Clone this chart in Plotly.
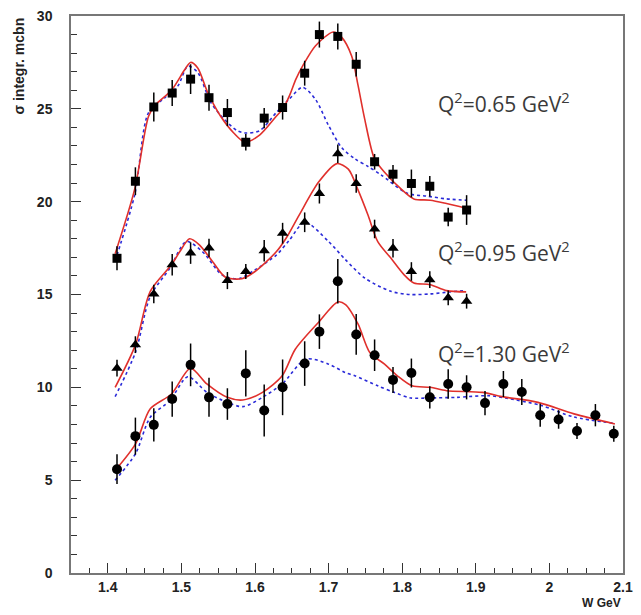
import plotly.graph_objects as go

# ---- data points (W in GeV, sigma in mcbn) ----
w_q065 = [1.4125, 1.4375, 1.4625, 1.4875, 1.5125, 1.5375, 1.5625, 1.5875, 1.6125, 1.6375,
          1.6675, 1.6875, 1.7125, 1.7375, 1.7625, 1.7875, 1.8125, 1.8375, 1.8625, 1.8875]
s_q065 = [16.95, 21.1, 25.1, 25.85, 26.6, 25.6, 24.8, 23.2, 24.5, 25.07,
          26.92, 29.0, 28.9, 27.4, 22.15, 21.48, 20.98, 20.83, 19.17, 19.55]
e_q065 = [0.65, 0.75, 0.78, 0.7, 0.8, 0.7, 0.73, 0.45, 0.55, 0.65,
          0.67, 0.7, 0.7, 0.66, 0.42, 0.5, 0.75, 0.55, 0.5, 0.8]

w_q095 = [1.4125, 1.4375, 1.4625, 1.4875, 1.5125, 1.5375, 1.5625, 1.5875, 1.6125, 1.6375,
          1.6675, 1.6875, 1.7125, 1.7375, 1.7625, 1.7875, 1.8125, 1.8375, 1.8625, 1.8875]
s_q095 = [11.03, 12.3, 15.03, 16.6, 17.23, 17.5, 15.75, 16.24, 17.36, 18.3,
          18.89, 20.44, 22.58, 20.98, 18.53, 17.49, 16.24, 15.8, 14.82, 14.64]
e_q095 = [0.45, 0.45, 0.5, 0.58, 0.58, 0.5, 0.46, 0.4, 0.58, 0.56,
          0.53, 0.54, 0.5, 0.5, 0.5, 0.5, 0.5, 0.45, 0.4, 0.4]

w_q130 = [1.4125, 1.4375, 1.4625, 1.4875, 1.5125, 1.5375, 1.5625, 1.5875, 1.6125, 1.6375,
          1.6675, 1.6875, 1.7125, 1.7375, 1.7625, 1.7875, 1.8125, 1.8375, 1.8625, 1.8875,
          1.9125, 1.9375, 1.9625, 1.9875, 2.0125, 2.0375, 2.0625, 2.0875]
s_q130 = [5.59, 7.37, 7.98, 9.37, 11.21, 9.46, 9.1, 10.75, 8.75, 10.0,
          11.28, 13.0, 15.71, 12.85, 11.73, 10.4, 10.77, 9.46, 10.18, 10.0,
          9.15, 10.18, 9.75, 8.5, 8.27, 7.65, 8.5, 7.5]
e_q130 = [0.8, 1.0, 0.9, 0.95, 1.15, 1.05, 0.85, 1.25, 1.4, 1.5,
          1.2, 0.93, 1.2, 1.1, 0.85, 0.7, 0.78, 0.6, 0.8, 0.65,
          0.65, 0.7, 0.7, 0.62, 0.5, 0.43, 0.6, 0.43]

# ---- model curves (red solid, blue dashed) ----
red065_w = [1.41, 1.4367, 1.4554, 1.4644, 1.4865, 1.5044, 1.5124, 1.5222, 1.5355, 1.5533,
            1.5711, 1.5866, 1.6066, 1.6289, 1.6379, 1.6467, 1.6556, 1.6646, 1.6823, 1.7063,
            1.7179, 1.7313, 1.7401, 1.749, 1.7624, 1.7757, 1.798, 1.8158, 1.838, 1.8602, 1.8869]
red065_s = [17.2, 20.7, 24.6, 25.2, 26.0, 27.1, 27.5, 27.2, 25.9, 24.6,
            23.7, 23.2, 23.6, 24.6, 25.0, 25.7, 26.6, 27.3, 28.4, 29.14,
            28.85, 27.85, 26.25, 24.46, 22.3, 21.6, 20.7, 20.15, 20.08, 19.9, 19.65]
blue065_w = [1.41, 1.4367, 1.4554, 1.4777, 1.4955, 1.5088, 1.5222, 1.5399, 1.5577, 1.5755,
             1.5866, 1.6066, 1.6289, 1.6467, 1.6646, 1.6823, 1.7, 1.718, 1.736, 1.7534,
             1.771, 1.807, 1.8335, 1.8602, 1.8869]
blue065_s = [16.8, 20.4, 24.8, 25.6, 26.25, 27.3, 26.96, 25.35, 24.46, 23.83,
             23.7, 23.83, 24.8, 25.53, 26.16, 25.5, 24.1, 22.9, 22.3, 21.9,
             21.45, 20.45, 20.3, 20.15, 20.08]

red095_w = [1.41, 1.4377, 1.4577, 1.4865, 1.4977, 1.5111, 1.5244, 1.5422, 1.56, 1.5822,
            1.6, 1.6289, 1.6422, 1.66, 1.6867, 1.7113, 1.7268, 1.7401, 1.7535, 1.7668,
            1.7846, 1.8024, 1.8158, 1.838, 1.8602, 1.8869]
red095_s = [10.0, 12.3, 15.17, 16.6, 17.3, 18.0, 17.67, 16.78, 15.93, 15.85,
            16.24, 17.3, 18.03, 19.28, 21.07, 22.05, 21.75, 20.62, 19.28, 17.85,
            16.96, 16.07, 15.62, 15.53, 15.21, 15.14]
blue095_w = [1.41, 1.4377, 1.4577, 1.4844, 1.5066, 1.5288, 1.5555, 1.5777, 1.6, 1.6289,
             1.6467, 1.6677, 1.7, 1.7223, 1.749, 1.7846, 1.8113, 1.838, 1.8647, 1.8869]
blue095_s = [9.5, 11.9, 14.9, 16.42, 17.85, 17.3, 16.05, 15.85, 16.33, 17.12,
             17.93, 18.89, 17.85, 16.9, 15.89, 15.17, 15.0, 15.03, 15.14, 15.21]

red130_w = [1.41, 1.4377, 1.4577, 1.4865, 1.5124, 1.5346, 1.5622, 1.5835, 1.6102, 1.6369,
            1.6547, 1.6858, 1.7125, 1.723, 1.7401, 1.756, 1.776, 1.7935, 1.8135, 1.838,
            1.8602, 1.909, 1.9355, 1.9845, 2.0334, 2.089]
red130_s = [5.53, 6.96, 8.84, 9.64, 11.03, 10.18, 9.46, 9.32, 9.73, 10.62,
            12.05, 13.48, 14.6, 14.46, 13.4, 11.87, 11.25, 10.62, 10.08, 10.0,
            9.82, 9.73, 9.5, 9.19, 8.57, 8.03]
blue130_w = [1.41, 1.4377, 1.4577, 1.4844, 1.5088, 1.5346, 1.5622, 1.5835, 1.6102, 1.6369,
             1.6691, 1.7, 1.7223, 1.7357, 1.7668, 1.789, 1.8113, 1.838, 1.8735, 1.918,
             1.9402, 1.989, 2.0334, 2.089]
blue130_s = [5.0, 6.43, 8.39, 9.29, 10.57, 9.73, 9.19, 8.96, 9.46, 10.18,
             11.52, 11.25, 10.8, 10.62, 10.08, 9.73, 9.43, 9.43, 9.46, 9.55,
             9.43, 9.02, 8.4, 8.06]

labels = ["Q<sup>2</sup>=0.65 GeV<sup>2</sup>",
          "Q<sup>2</sup>=0.95 GeV<sup>2</sup>",
          "Q<sup>2</sup>=1.30 GeV<sup>2</sup>"]
label_x = [1.8455, 1.8455, 1.8455]
label_y = [25.35, 17.3, 11.9]

RED = "#e0302c"
BLUE = "#2a2ad8"

fig = go.Figure()

for cw, cs in [(blue065_w, blue065_s), (blue095_w, blue095_s), (blue130_w, blue130_s)]:
    fig.add_trace(go.Scatter(x=cw, y=cs, mode="lines",
                             line=dict(color=BLUE, width=1.6, dash="3px,3px", shape="spline", smoothing=0.8),
                             hoverinfo="skip", showlegend=False))
for cw, cs in [(red065_w, red065_s), (red095_w, red095_s), (red130_w, red130_s)]:
    fig.add_trace(go.Scatter(x=cw, y=cs, mode="lines",
                             line=dict(color=RED, width=1.6, shape="spline", smoothing=0.8),
                             hoverinfo="skip", showlegend=False))

for w, s, e, sym, sz in [(w_q065, s_q065, e_q065, "square", 9),
                         (w_q095, s_q095, e_q095, "triangle-up", 10),
                         (w_q130, s_q130, e_q130, "circle", 10)]:
    fig.add_trace(go.Scatter(x=w, y=s, mode="markers",
                             marker=dict(symbol=sym, size=sz, color="black"),
                             error_y=dict(type="data", array=e, color="black", thickness=1.5, width=0),
                             showlegend=False))

for t, lx, ly in zip(labels, label_x, label_y):
    fig.add_annotation(x=lx, y=ly, xref="x", yref="y", text=t, showarrow=False,
                       xanchor="left", yanchor="middle",
                       font=dict(family="Open Sans", size=21, color="#3a3a3a"))

fig.add_annotation(x=-0.096, y=1.0, xref="paper", yref="paper", text="σ integr. mcbn",
                   textangle=-90, showarrow=False, xanchor="center", yanchor="top",
                   font=dict(family="Liberation Sans", size=14, color="#222222", weight="bold"))
fig.add_annotation(x=1.0, y=-0.0536, xref="paper", yref="paper", text="W GeV",
                   showarrow=False, xanchor="right", yanchor="middle",
                   font=dict(family="Liberation Sans", size=12, color="#222222", weight="bold"))

axis_common = dict(showline=True, linecolor="#777777", linewidth=1.5, mirror=True,
                   ticks="inside", tickcolor="#333333", tickwidth=1.2, ticklen=10,
                   showgrid=False, zeroline=False,
                   tickfont=dict(family="Liberation Sans", size=14, color="#222222", weight="bold"))

fig.update_xaxes(range=[1.35, 2.1], tick0=1.4, dtick=0.1, tickformat="~g",
                 minor=dict(dtick=0.025, tick0=1.4, ticks="inside", ticklen=5,
                            tickcolor="#333333", tickwidth=1.0, showgrid=False),
                 **axis_common)
fig.update_yaxes(range=[0, 30], tick0=0, dtick=5, ticklabelstandoff=14,
                 minor=dict(dtick=1, tick0=0, ticks="inside", ticklen=6,
                            tickcolor="#333333", tickwidth=1.0, showgrid=False),
                 **axis_common)

fig.update_layout(width=641, height=615, margin=dict(l=71, r=8, t=13, b=42),
                  plot_bgcolor="white", paper_bgcolor="white", showlegend=False)

fig.write_html("out.html")
